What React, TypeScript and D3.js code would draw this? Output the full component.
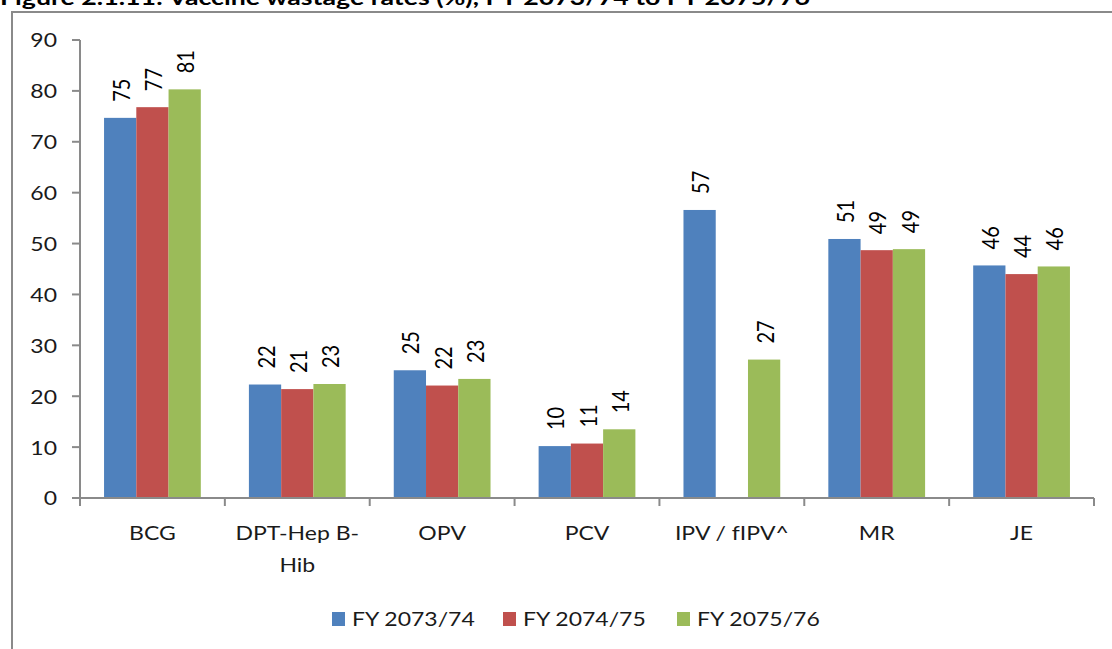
import { useEffect, useRef } from 'react';
import * as d3 from 'd3';

// categories & series
const categories = ['BCG', 'DPT-Hep B-Hib', 'OPV', 'PCV', 'IPV / fIPV^', 'MR', 'JE'];
const categoryLines = [['BCG'], ['DPT-Hep B-', 'Hib'], ['OPV'], ['PCV'], ['IPV / fIPV^'], ['MR'], ['JE']];
const seriesNames = ['FY 2073/74', 'FY 2074/75', 'FY 2075/76'];
const fy7374 = [74.7, 22.3, 25.1, 10.2, 56.6, 50.9, 45.7];
const fy7475 = [76.8, 21.4, 22.1, 10.7, null, 48.7, 44.0];
const fy7576 = [80.3, 22.4, 23.4, 13.5, 27.2, 48.9, 45.5];
const labels7374 = ['75', '22', '25', '10', '57', '51', '46'];
const labels7475 = ['77', '21', '22', '11', '', '49', '44'];
const labels7576 = ['81', '23', '23', '14', '27', '49', '46'];
const yTicks = [0, 10, 20, 30, 40, 50, 60, 70, 80, 90];
const title = 'Figure 2.1.11: Vaccine wastage rates (%), FY 2073/74 to FY 2075/76';

const colors = ['#4f81bd', '#c0504d', '#9bbb59'];
const FONT = 'Lato, "Open Sans", sans-serif';
const SX = 1.15; // the source picture is a little stretched sideways

export default function App() {
  const ref = useRef<SVGSVGElement>(null);

  useEffect(() => {
    const width = 1112;
    const height = 649;
    const plot = { left: 80, right: 1094, top: 40, bottom: 498 };

    const svg = d3.select(ref.current);
    svg.selectAll('*').remove();
    svg.attr('width', width).attr('height', height).style('font-family', FONT);

    // title, cut off by the top edge
    svg.append('text')
      .attr('x', 0)
      .attr('y', 5)
      .attr('textLength', 810)
      .attr('lengthAdjust', 'spacingAndGlyphs')
      .style('font-weight', 'bold')
      .style('font-size', '20px')
      .attr('fill', '#000')
      .text(title);

    // chart frame
    svg.append('path')
      .attr('d', `M12,${height} V12 H${width}`)
      .attr('fill', 'none')
      .attr('stroke', '#8a8a8a')
      .attr('stroke-width', 2);

    const x = d3.scaleBand<string>()
      .domain(categories)
      .range([plot.left, plot.right])
      .padding(0);

    const xInner = d3.scaleBand<string>()
      .domain(seriesNames)
      .range([x.bandwidth() * 0.166, x.bandwidth() * 0.834])
      .padding(0);

    const y = d3.scaleLinear().domain([0, 90]).range([plot.bottom, plot.top]);

    const series = [
      { name: seriesNames[0], values: fy7374, labels: labels7374, color: colors[0] },
      { name: seriesNames[1], values: fy7475, labels: labels7475, color: colors[1] },
      { name: seriesNames[2], values: fy7576, labels: labels7576, color: colors[2] },
    ];

    const g = svg.append('g');

    // bars
    series.forEach(s => {
      categories.forEach((c, i) => {
        const v = s.values[i];
        if (v == null) return;
        g.append('rect')
          .attr('x', (x(c) ?? 0) + (xInner(s.name) ?? 0))
          .attr('y', y(v))
          .attr('width', xInner.bandwidth())
          .attr('height', y(0) - y(v))
          .attr('fill', s.color);
      });
    });

    // value labels (rotated)
    series.forEach(s => {
      categories.forEach((c, i) => {
        const v = s.values[i];
        if (v == null || !s.labels[i]) return;
        const cx = (x(c) ?? 0) + (xInner(s.name) ?? 0) + xInner.bandwidth() / 2 + 1;
        g.append('text')
          .attr('transform', `translate(${cx},${y(v) - 16}) scale(${SX},1) rotate(-90)`)
          .attr('text-anchor', 'start')
          .attr('dominant-baseline', 'central')
          .style('font-size', '20px')
          .attr('fill', '#000')
          .text(s.labels[i]);
      });
    });

    const axisColor = '#8a8a8a';

    // y axis
    const yAxis = svg.append('g');
    yAxis.append('line')
      .attr('x1', plot.left).attr('x2', plot.left)
      .attr('y1', y(90)).attr('y2', y(0))
      .attr('stroke', axisColor).attr('stroke-width', 2);
    yTicks.forEach(t => {
      yAxis.append('line')
        .attr('x1', plot.left - 8).attr('x2', plot.left)
        .attr('y1', y(t)).attr('y2', y(t))
        .attr('stroke', axisColor).attr('stroke-width', 2);
      yAxis.append('text')
        .attr('transform', `translate(${plot.left - 23},${y(t)}) scale(${SX},1)`)
        .attr('text-anchor', 'end')
        .attr('dominant-baseline', 'central')
        .style('font-size', '20px')
        .attr('fill', '#1a1a1a')
        .text(t);
    });

    // x axis
    const xAxis = svg.append('g');
    xAxis.append('line')
      .attr('x1', plot.left - 8).attr('x2', plot.right)
      .attr('y1', y(0)).attr('y2', y(0))
      .attr('stroke', axisColor).attr('stroke-width', 2);
    const bounds = categories.map(c => x(c) ?? 0).concat([plot.right]);
    bounds.forEach(bx => {
      xAxis.append('line')
        .attr('x1', bx).attr('x2', bx)
        .attr('y1', y(0)).attr('y2', y(0) + 8)
        .attr('stroke', axisColor).attr('stroke-width', 2);
    });
    categories.forEach((c, i) => {
      const cx = (x(c) ?? 0) + x.bandwidth() / 2;
      categoryLines[i].forEach((line, j) => {
        xAxis.append('text')
          .attr('transform', `translate(${cx},${533 + j * 32}) scale(${SX},1)`)
          .attr('text-anchor', 'middle')
          .attr('dominant-baseline', 'central')
          .style('font-size', '20px')
          .attr('fill', '#1a1a1a')
          .text(line);
      });
    });

    // legend
    const legend = svg.append('g');
    const legendX = [332, 503, 677];
    series.forEach((s, i) => {
      legend.append('rect')
        .attr('x', legendX[i])
        .attr('y', 612)
        .attr('width', 13)
        .attr('height', 14)
        .attr('fill', s.color);
      legend.append('text')
        .attr('transform', `translate(${legendX[i] + 20},619) scale(${SX},1)`)
        .attr('dominant-baseline', 'central')
        .style('font-size', '20px')
        .attr('fill', '#1a1a1a')
        .text(s.name);
    });
  }, []);

  return (
    <div style={{ position: 'absolute', left: 0, top: 0, width: 1112, height: 649, background: '#fff' }}>
      <svg ref={ref}></svg>
    </div>
  );
}
